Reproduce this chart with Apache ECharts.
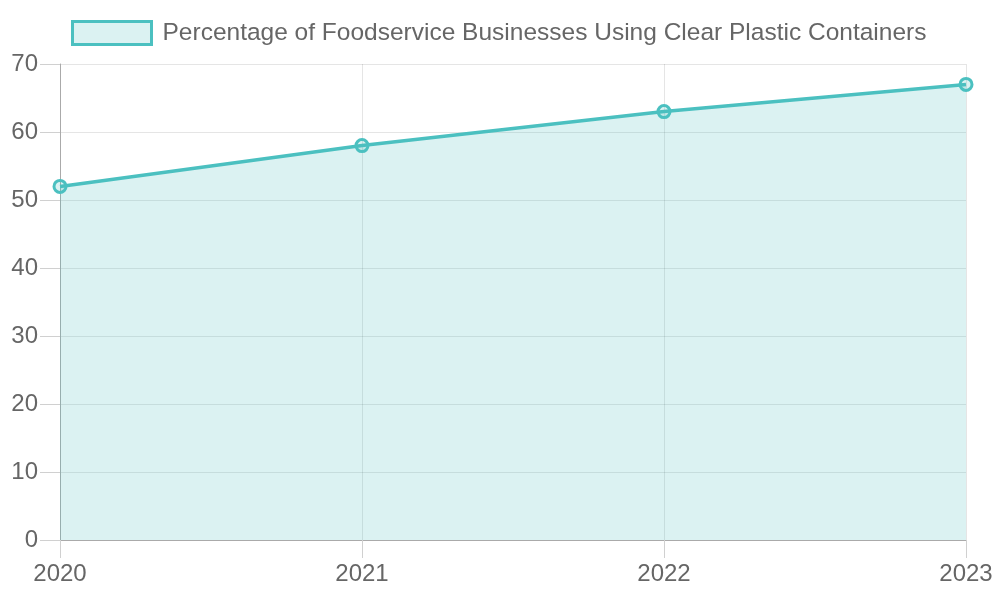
<!DOCTYPE html>
<html>
<head>
<meta charset="utf-8">
<script src="https://cdn.jsdelivr.net/npm/echarts@6/dist/echarts.min.js"></script>
<style>
  html, body { margin: 0; padding: 0; background: #fff; }
  #chart { width: 1000px; height: 600px; }
</style>
</head>
<body>
<div id="chart"></div>
<script>
const years = ['2020', '2021', '2022', '2023']
const usage = [52, 58, 63, 67]
const seriesName = 'Percentage of Foodservice Businesses Using Clear Plastic Containers'

const chart = echarts.init(document.getElementById('chart'), null, { renderer: 'canvas' })
const font = 'Liberation Sans, Arial, sans-serif'

chart.setOption({
  animation: false,
  backgroundColor: '#fff',
  textStyle: { fontFamily: font },
  legend: {
    top: 15,
    left: 66,
    itemWidth: 79,
    itemHeight: 23,
    icon: 'rect',
    textStyle: { color: '#666', fontSize: 24.5, fontFamily: font, padding: [0, 0, 0, 6] },
    data: [{
      name: seriesName,
      itemStyle: { color: 'rgba(75,192,192,0.2)', borderColor: '#4bc0c0', borderWidth: 3 }
    }]
  },
  grid: {
    left: 60,
    right: 34,
    top: 64,
    bottom: 60
  },
  xAxis: {
    type: 'category',
    boundaryGap: false,
    data: years,
    axisLine: { lineStyle: { color: '#aaa', width: 1 } },
    axisTick: { show: true, length: 18, lineStyle: { color: '#d0d0d0' } },
    axisLabel: { color: '#666', fontSize: 24, margin: 22 },
    splitLine: { show: true, lineStyle: { color: 'rgba(0,0,0,0.1)' } }
  },
  yAxis: {
    type: 'value',
    min: 0,
    max: 70,
    interval: 10,
    axisLine: { show: true, lineStyle: { color: '#aaa', width: 1 } },
    axisTick: { show: true, length: 20, lineStyle: { color: '#d0d0d0' } },
    axisLabel: { color: '#666', fontSize: 24, margin: 22 },
    splitLine: { show: true, lineStyle: { color: 'rgba(0,0,0,0.1)' } }
  },
  series: [
    {
      name: seriesName,
      type: 'line',
      data: usage,
      symbol: 'circle',
      symbolSize: 12,
      showAllSymbol: true,
      lineStyle: { color: '#4bc0c0', width: 3.5 },
      itemStyle: { color: 'rgba(75,192,192,0.2)', borderColor: '#4bc0c0', borderWidth: 3 },
      areaStyle: { color: 'rgba(75,192,192,0.2)', opacity: 1, origin: 'start' }
    }
  ]
})
</script>
</body>
</html>
